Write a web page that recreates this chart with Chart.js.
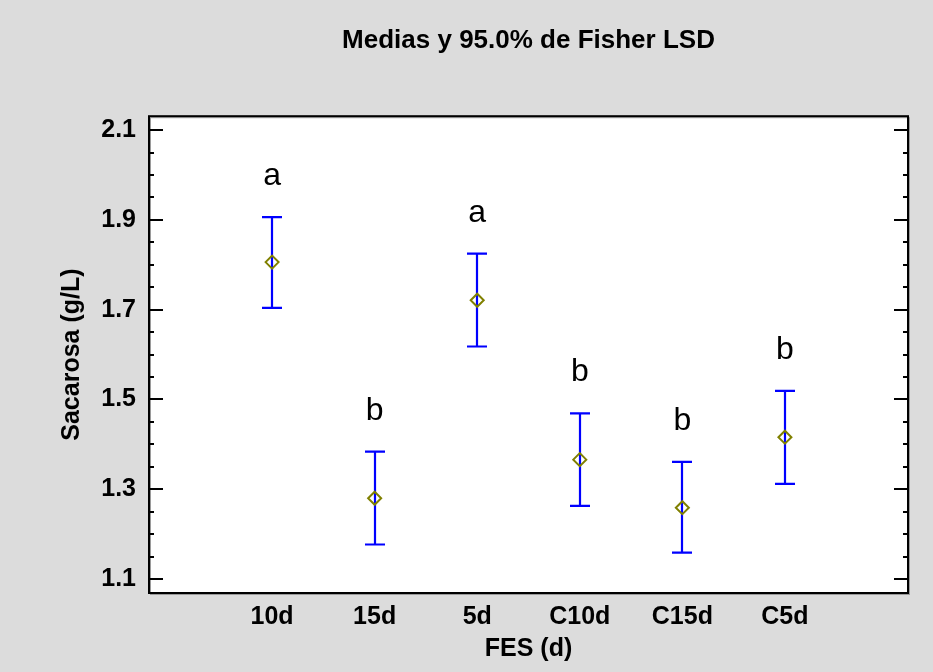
<!DOCTYPE html>
<html><head><meta charset="utf-8">
<script src="https://cdn.jsdelivr.net/npm/chart.js@4/dist/chart.umd.min.js"></script>
<style>html,body{margin:0;padding:0;background:#fff}</style>
</head><body>
<canvas id="c" width="933" height="672"></canvas>
<script>
const categories = ['10d', '15d', '5d', 'C10d', 'C15d', 'C5d'];
const means = [1.806, 1.280, 1.721, 1.366, 1.259, 1.416];
const lower = [1.704, 1.177, 1.618, 1.263, 1.159, 1.312];
const upper = [1.906, 1.384, 1.825, 1.469, 1.361, 1.519];
const groupLetters = ['a', 'b', 'a', 'b', 'b', 'b'];
const yMajorTicks = [1.1, 1.3, 1.5, 1.7, 1.9, 2.1];
const yMinorStep = 0.05;

const FONT = '"Liberation Sans", Arial, sans-serif';
const points = categories.map((c, i) => ({x: i, y: means[i]}));

const bgPlugin = {
  id: 'bg',
  beforeDraw(chart) {
    const {ctx, chartArea: a} = chart;
    ctx.save();
    ctx.fillStyle = '#dcdcdc';
    ctx.fillRect(0, 0, chart.width, chart.height);
    ctx.fillStyle = '#ffffff';
    ctx.fillRect(a.left, a.top, a.right - a.left, a.bottom - a.top);
    ctx.restore();
  },
  afterDraw(chart) {
    const {ctx, chartArea: a, scales: {y}} = chart;
    ctx.save();
    ctx.strokeStyle = '#9a9a9a';
    ctx.lineWidth = 1;
    ctx.strokeRect(a.left + 1.5, a.top + 1.5, a.right - a.left, a.bottom - a.top);
    ctx.strokeStyle = '#000';
    ctx.lineWidth = 2;
    const lo = yMajorTicks[0], hi = yMajorTicks[yMajorTicks.length - 1];
    const n = Math.round((hi - lo) / yMinorStep);
    for (let k = 0; k <= n; k++) {
      const v = lo + k * yMinorStep;
      const py = Math.round(y.getPixelForValue(v));
      const major = k % 4 === 0;
      const len = major ? 14 : 5;
      ctx.beginPath();
      ctx.moveTo(a.left, py); ctx.lineTo(a.left + len, py);
      ctx.moveTo(a.right, py); ctx.lineTo(a.right - len, py);
      ctx.stroke();
    }
    ctx.strokeRect(a.left, a.top, a.right - a.left, a.bottom - a.top);
    ctx.restore();
  }
};

const errPlugin = {
  id: 'err',
  beforeDatasetsDraw(chart) {
    const {ctx, scales: {x, y}} = chart;
    ctx.save();
    ctx.strokeStyle = '#0000ff';
    ctx.lineWidth = 2.2;
    categories.forEach((c, i) => {
      const px = Math.round(x.getPixelForValue(i));
      const pl = y.getPixelForValue(lower[i]);
      const pu = y.getPixelForValue(upper[i]);
      ctx.beginPath();
      ctx.moveTo(px, pu); ctx.lineTo(px, pl);
      ctx.moveTo(px - 10, pu); ctx.lineTo(px + 10, pu);
      ctx.moveTo(px - 10, pl); ctx.lineTo(px + 10, pl);
      ctx.stroke();
    });
    ctx.restore();
  },
  afterDatasetsDraw(chart) {
    const {ctx, scales: {x, y}} = chart;
    ctx.save();
    ctx.fillStyle = '#000';
    ctx.font = '32px ' + FONT;
    ctx.textAlign = 'center';
    ctx.textBaseline = 'alphabetic';
    categories.forEach((c, i) => {
      const px = x.getPixelForValue(i);
      const pu = y.getPixelForValue(upper[i]);
      ctx.fillText(groupLetters[i], px, pu - 32);
    });
    ctx.restore();
  }
};

new Chart(document.getElementById('c'), {
  type: 'scatter',
  data: {
    datasets: [{
      data: points,
      pointStyle: 'rectRot',
      pointRadius: 6.5,
      pointHoverRadius: 6.5,
      borderColor: '#808000',
      backgroundColor: 'rgba(0,0,0,0)',
      pointBorderWidth: 2,
      borderWidth: 2
    }]
  },
  options: {
    responsive: false,
    animation: false,
    devicePixelRatio: 1,
    events: [],
    layout: {padding: {left: 0, right: 25, top: 0, bottom: 0}},
    plugins: {
      legend: {display: false},
      tooltip: {enabled: false},
      title: {
        display: true,
        fullSize: false,
        text: 'Medias y 95.0% de Fisher LSD',
        color: '#000',
        font: {family: FONT, size: 26, weight: 'bold', lineHeight: 1.2},
        padding: {top: 25, bottom: 60}
      }
    },
    scales: {
      x: {
        type: 'linear',
        min: -1.2,
        max: 6.2,
        afterBuildTicks: s => { s.ticks = categories.map((c, i) => ({value: i})); },
        afterFit: s => { s.height = 79; },
        ticks: {
          callback: v => categories[v] ?? '',
          color: '#000',
          font: {family: FONT, size: 25, weight: 'bold'},
          padding: 9,
          autoSkip: false,
          maxRotation: 0
        },
        grid: {display: false, drawTicks: false},
        border: {display: false},
        title: {
          display: true, text: 'FES (d)', color: '#000',
          font: {family: FONT, size: 25, weight: 'bold', lineHeight: 1.2},
          padding: {top: 0, bottom: 8}
        }
      },
      y: {
        type: 'linear',
        min: 1.069,
        max: 2.131,
        afterBuildTicks: s => { s.ticks = yMajorTicks.map(v => ({value: v})); },
        afterFit: s => { s.width = 149; },
        ticks: {
          callback: v => Number(v).toFixed(1),
          color: '#000',
          font: {family: FONT, size: 25, weight: 'bold'},
          padding: 13
        },
        grid: {display: false, drawTicks: false},
        border: {display: false},
        title: {
          display: true, text: 'Sacarosa (g/L)', color: '#000',
          font: {family: FONT, size: 25, weight: 'bold', lineHeight: 1.2},
          padding: {top: 57, bottom: 0}
        }
      }
    }
  },
  plugins: [bgPlugin, errPlugin]
});
</script>
</body></html>
